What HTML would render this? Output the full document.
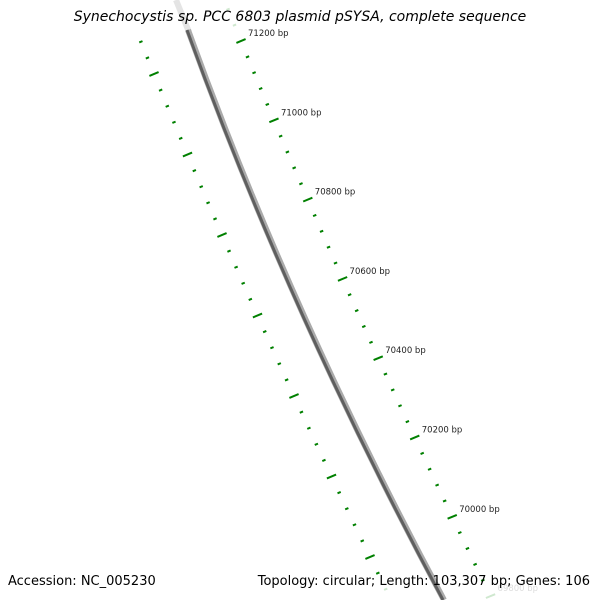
<!DOCTYPE html>
<html><head><meta charset="utf-8"><style>
body{margin:0;background:#fff;}
#wrap{position:relative;width:600px;height:600px;overflow:hidden;font-family:"DejaVu Sans","Liberation Sans",sans-serif;}
.t{position:absolute;white-space:nowrap;color:#000;}
</style></head><body>
<div id="wrap">
<svg id="chart" width="600" height="600" style="position:absolute;left:0;top:0">
  <path d="M176,0 L189,32" fill="none" stroke="#e4e4e4" stroke-width="6"/>
  <path d="M188,30 Q291,315 444,600" fill="none" stroke="#aaa" stroke-width="6"/>
  <path d="M187,30 Q290,315 443,600" fill="none" stroke="#5f5f5f" stroke-width="3"/>
  <g id="ticks"></g>
</svg>
<div class="t" style="left:0;width:600px;text-align:center;top:9px;font-size:14px;font-style:italic;">Synechocystis sp. PCC 6803 plasmid pSYSA, complete sequence</div>
<div class="t" style="left:8px;top:574px;font-size:13px;">Accession: NC_005230</div>
<div class="t" style="right:10px;top:574px;font-size:13px;">Topology: circular; Length: 103,307 bp; Genes: 106</div>
</div>
<script>
const majorBp = [71200, 71000, 70800, 70600, 70400, 70200, 70000, 69800];
const majorLabels = ["71200 bp","71000 bp","70800 bp","70600 bp","70400 bp","70200 bp","70000 bp","69800 bp"];
const innerMajorBp = [71200, 71000, 70800, 70600, 70400, 70200, 70000];
const minorStep = 40;
const NS = "http://www.w3.org/2000/svg";
const g = document.getElementById('ticks');
function outerPos(bp){const t=(71200-bp)/200;return [241+32.5*t+0.45*t*t, 41+79.3*t];}
function innerPos(bp){const t=(71200-bp)/200;return [154+33*t+0.5*t*t, 74+80.5*t];}
function tick(pos,len,name){
  const [x,y]=pos;const dx=0.92,dy=-0.38;
  const l=document.createElementNS(NS,'line');
  
  
  l.setAttribute('x1',x-dx*len/2);l.setAttribute('y1',y-dy*len/2);
  l.setAttribute('x2',x+dx*len/2);l.setAttribute('y2',y+dy*len/2);
  l.setAttribute('stroke', y>585||y<34?'#cfe8cf':'#008000');l.setAttribute('stroke-width','2');
  g.appendChild(l);
}
function addTrack(posFn, majors, prefix, labels){
  const start=majors[0]+2*minorStep, end=majors[majors.length-1]-4*minorStep;
  for(let bp=start; bp>=end; bp-=minorStep){
    const p=posFn(bp);
    if(p[1]<-5||p[1]>605) continue;
    const isMajor=majors.indexOf(bp)>=0;
    tick(p, isMajor?10:3.5, isMajor?prefix+'-major-tick':prefix+'-minor-tick');
  }
  if(labels){
    majors.forEach((bp,i)=>{
      const p=posFn(bp);
      const tx=document.createElementNS(NS,'text');
      
      
      tx.setAttribute('x',p[0]+7);tx.setAttribute('y',p[1]-5);
      tx.setAttribute('font-size','8.5');tx.setAttribute('font-family','DejaVu Sans, Liberation Sans, sans-serif');
      tx.setAttribute('fill', p[1]>580?'#ddd':'#222');
      tx.textContent=labels[i];
      g.appendChild(tx);
    });
  }
}
addTrack(outerPos, majorBp, 'outer', majorLabels);
addTrack(innerPos, innerMajorBp, 'inner', null);
</script>
</body></html>
